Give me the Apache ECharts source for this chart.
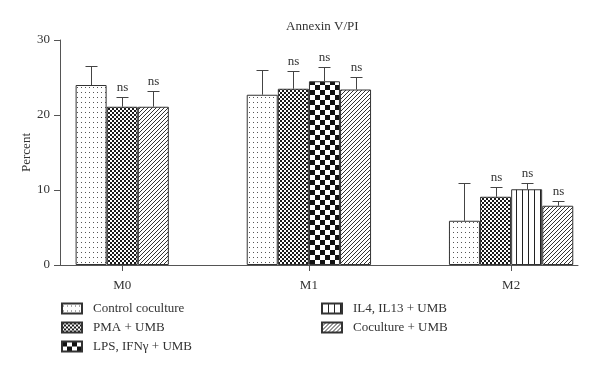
<!DOCTYPE html>
<html>
<head>
<meta charset="utf-8">
<script src="https://cdn.jsdelivr.net/npm/echarts@6/dist/echarts.min.js"></script>
<style>
  html, body { margin: 0; background: #fff; }
  #chart { width: 600px; height: 376px; }
</style>
</head>
<body>
<div id="chart"></div>
<script>
// groups on the x axis
var groups = ['M0', 'M1', 'M2'];
var seriesNames = ['Control coculture', 'PMA + UMB', 'LPS, IFNγ + UMB', 'IL4, IL13 + UMB', 'Coculture + UMB'];

// mean percent per group (null = no bar)
var controlVals = [24.0, 22.7, 5.9];
var pmaVals     = [21.1, 23.5, 9.1];
var lpsVals     = [null, 24.5, null];
var il4Vals     = [null, null, 10.1];
var coVals      = [21.1, 23.4, 7.9];

// upper error bars
var controlErr = [2.55, 3.35, 5.0];
var pmaErr     = [1.35, 2.4, 1.3];
var lpsErr     = [null, 1.85, null];
var il4Err     = [null, null, 0.8];
var coErr      = [2.15, 1.7, 0.7];

// "ns" marks per series
var nsMark = [false, true, true, true, true];

var yTicks = [0, 10, 20, 30];

var values = [controlVals, pmaVals, lpsVals, il4Vals, coVals];
var errors = [controlErr, pmaErr, lpsErr, il4Err, coErr];

var FONT = '"Liberation Serif", "DejaVu Serif", serif';
var TXT = '#333';

// fill patterns
function makePattern(w, h, draw) {
  var c = document.createElement('canvas');
  c.width = w; c.height = h;
  var ctx = c.getContext('2d');
  ctx.fillStyle = '#fff';
  ctx.fillRect(0, 0, w, h);
  draw(ctx, w, h);
  return { image: c, repeat: 'repeat' };
}
var patterns = [
  makePattern(4, 5, function (ctx) { ctx.fillStyle = '#555'; ctx.fillRect(1, 2, 1, 1); }),
  makePattern(4, 4, function (ctx) {
    ctx.fillStyle = '#1a1a1a'; ctx.fillRect(0, 0, 2, 2); ctx.fillRect(2, 2, 2, 2);
  }),
  makePattern(10, 10, function (ctx) {
    ctx.fillStyle = '#111'; ctx.fillRect(0, 0, 5, 5); ctx.fillRect(5, 5, 5, 5);
  }),
  makePattern(6, 6, function (ctx) { ctx.fillStyle = '#222'; ctx.fillRect(0, 0, 1, 6); }),
  makePattern(4, 4, function (ctx) {
    ctx.fillStyle = '#333';
    for (var i = 0; i < 4; i++) ctx.fillRect(i, 3 - i, 1, 1);
  })
];

// bar slots: bars of a group sit side by side, groups separated by a gap
var pos = values.map(function () { return []; });
var centers = [];
var left = 0.5;
groups.forEach(function (g, gi) {
  var k = 0;
  values.forEach(function (v, si) {
    if (v[gi] != null) { pos[si][gi] = left + 0.5 + k; k++; }
  });
  centers.push(left + k / 2);
  left += k + 2.5;
});

var series = [];
var errData = [];
values.forEach(function (v, si) {
  var data = [];
  v.forEach(function (y, gi) {
    if (y == null) return;
    data.push([pos[si][gi], y]);
    errData.push([pos[si][gi], y, errors[si][gi], si]);
  });
  series.push({
    name: seriesNames[si],
    type: 'bar',
    barWidth: 31,
    barGap: '-100%',
    itemStyle: { color: patterns[si], borderColor: '#333', borderWidth: 1 },
    data: data
  });
});

function crisp(p) { return Math.round(p) + 0.5; }

series.push({
  type: 'custom',
  z: 5,
  encode: { x: 0, y: 1 },
  data: errData,
  renderItem: function (params, api) {
    var x = api.value(0), v = api.value(1), e = api.value(2), si = api.value(3);
    var base = api.coord([x, v]);
    var top = api.coord([x, v + e]);
    var cx = crisp(base[0]), ty = crisp(top[1]);
    var st = { stroke: '#444', lineWidth: 1 };
    var children = [
      { type: 'line', shape: { x1: cx, y1: base[1], x2: cx, y2: ty }, style: st },
      { type: 'line', shape: { x1: cx - 6, y1: ty, x2: cx + 6, y2: ty }, style: st }
    ];
    if (nsMark[si]) {
      children.push({
        type: 'text', x: cx, y: ty - 3,
        style: { text: 'ns', align: 'center', verticalAlign: 'bottom', font: '13px ' + FONT, fill: TXT }
      });
    }
    return { type: 'group', children: children };
  }
});

function groupLabel(v) {
  for (var i = 0; i < centers.length; i++) {
    if (Math.abs(centers[i] - v) < 1e-6) return groups[i];
  }
  return '';
}

var legendCommon = {
  orient: 'vertical',
  itemWidth: 20,
  itemHeight: 10,
  itemGap: 6,
  icon: 'rect',
  textStyle: { fontSize: 13, fontFamily: FONT, color: TXT, padding: [0, 0, 0, 6] }
};

var chart = echarts.init(document.getElementById('chart'));
chart.setOption({
  animation: false,
  title: {
    text: 'Annexin V/PI',
    left: 281,
    top: 15,
    textStyle: { fontSize: 13, fontWeight: 'normal', fontFamily: FONT, color: TXT }
  },
  legend: [
    Object.assign({ data: seriesNames.slice(0, 3), left: 56, top: 297 }, legendCommon),
    Object.assign({ data: seriesNames.slice(3), left: 316, top: 297 }, legendCommon)
  ],
  grid: { left: 60, right: 22, top: 40, bottom: 111 },
  xAxis: {
    type: 'value',
    min: 0,
    max: 16.65,
    splitLine: { show: false },
    axisLine: { show: true, lineStyle: { color: '#555' } },
    axisTick: { show: true, customValues: centers, length: 6, lineStyle: { color: '#555' } },
    axisLabel: {
      customValues: centers,
      formatter: groupLabel,
      margin: 14,
      fontSize: 13,
      fontFamily: FONT,
      color: TXT
    }
  },
  yAxis: {
    type: 'value',
    min: yTicks[0],
    max: yTicks[yTicks.length - 1],
    interval: 10,
    name: 'Percent',
    nameLocation: 'middle',
    nameGap: 27,
    nameMoveOverlap: false,
    nameRotate: 90,
    nameTextStyle: { fontSize: 13, fontFamily: FONT, color: TXT },
    splitLine: { show: false },
    axisLine: { show: true, lineStyle: { color: '#555' } },
    axisTick: { show: true, length: 6, lineStyle: { color: '#555' } },
    axisLabel: { fontSize: 13, fontFamily: FONT, color: TXT, margin: 10 }
  },
  series: series
});
</script>
</body>
</html>
